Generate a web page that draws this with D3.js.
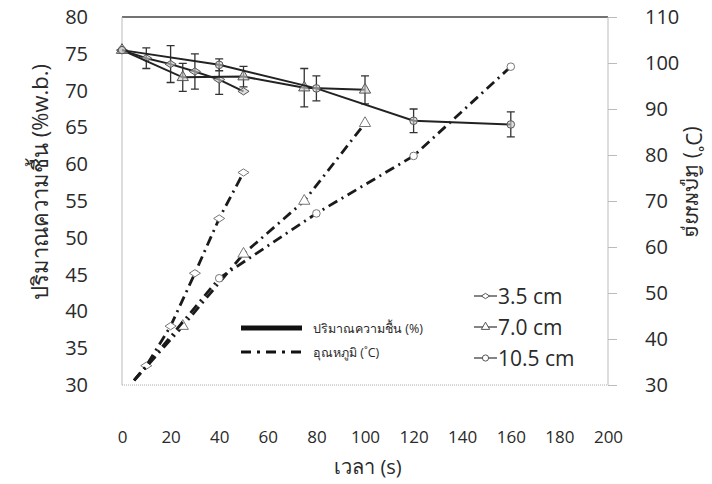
<!DOCTYPE html>
<html>
<head>
<meta charset="utf-8">
<script src="https://cdn.jsdelivr.net/npm/d3@7"></script>
<style>
  body { margin: 0; background: #fff; }
  text { font-family: "Open Sans", "Noto Sans", "Noto Sans CJK SC", sans-serif; fill: #2a2a2a; }
</style>
</head>
<body>
<svg width="712" height="484"></svg>
<script>
// moisture content (%w.b.), left axis
const seriesNames = ["3.5 cm", "7.0 cm", "10.5 cm"];
const moistTime = [
    [0, 10, 20, 30, 40, 50],
    [0, 25, 50, 75, 100],
    [0, 40, 80, 120, 160]
];
const moistValue = [
    [75.5, 74.4, 73.6, 72.6, 71.5, 69.9],
    [75.5, 71.8, 71.9, 70.4, 70.1],
    [75.5, 73.5, 70.3, 65.9, 65.4]
];
const moistErr = [
    [0.3, 1.4, 2.5, 2.4, 2.0, 0.3],
    [0.3, 1.9, 1.4, 2.6, 1.9],
    [0.3, 0.8, 1.7, 1.6, 1.7]
];
// temperature (°C), right axis
const tempTime = [
    [5, 10, 20, 30, 40, 50],
    [5, 25, 50, 75, 100],
    [5, 40, 80, 120, 160]
];
const tempValue = [
    [31, 34.2, 42.8, 54.3, 66.2, 76.2],
    [31, 42.8, 58.5, 70, 86.9],
    [31, 53.2, 67.3, 79.8, 99.2]
];
const xTicks = [0, 20, 40, 60, 80, 100, 120, 140, 160, 180, 200];
const yLeftTicks = [30, 35, 40, 45, 50, 55, 60, 65, 70, 75, 80];
const yRightTicks = [30, 40, 50, 60, 70, 80, 90, 100, 110];
const lineLegend = ["ปริมาณความชื้น (%)", "อุณหภูมิ (˚C)"];

const svg = d3.select("svg");
const plotL = 122, plotR = 608, plotT = 17, plotB = 385;

const x = d3.scaleLinear().domain([0, 200]).range([plotL, plotR]);
const yL = d3.scaleLinear().domain([30, 80]).range([plotB, plotT]);
const yR = d3.scaleLinear().domain([30, 110]).range([plotB, plotT]);

// wide diamond, like the original's marker
const wideDiamond = {
    draw(context, size) {
        const w = Math.sqrt(size) * 0.75, h = w * 0.65;
        context.moveTo(-w, 0);
        context.lineTo(0, -h);
        context.lineTo(w, 0);
        context.lineTo(0, h);
        context.closePath();
    }
};
const markerType = [wideDiamond, d3.symbolTriangle, d3.symbolCircle];
const markerSize = [55, 55, 45];

// frame
const frame = svg.append("g").attr("fill", "none");
frame.append("line").attr("x1", plotL).attr("x2", plotR).attr("y1", plotT).attr("y2", plotT)
    .attr("stroke", "#444").attr("stroke-width", 1.3);
frame.append("line").attr("x1", plotL).attr("x2", plotL).attr("y1", plotT).attr("y2", plotB)
    .attr("stroke", "#bbb");
frame.append("line").attr("x1", plotR).attr("x2", plotR).attr("y1", plotT).attr("y2", plotB)
    .attr("stroke", "#bbb");
frame.append("line").attr("x1", plotL).attr("x2", plotR).attr("y1", plotB).attr("y2", plotB)
    .attr("stroke", "#aaa").attr("stroke-dasharray", "1,1");

// axes
const xAxis = svg.append("g")
    .attr("transform", `translate(0 ${plotB + 46})`)
    .call(d3.axisBottom(x).tickValues(xTicks).tickSize(0).tickPadding(0));
xAxis.select(".domain").remove();
xAxis.selectAll("text").attr("font-size", 17).attr("fill", "#333");

const yAxisL = svg.append("g")
    .attr("transform", `translate(${plotL - 34} 0)`)
    .call(d3.axisLeft(yL).tickValues(yLeftTicks).tickSize(0).tickPadding(0));
yAxisL.select(".domain").remove();
yAxisL.selectAll("text").attr("font-size", 20).attr("fill", "#333");

const yAxisR = svg.append("g")
    .attr("transform", `translate(${plotR} 0)`)
    .call(d3.axisRight(yR).tickValues(yRightTicks).tickSize(9).tickPadding(28));
yAxisR.select(".domain").remove();
yAxisR.selectAll("line").attr("stroke", "#bbb");
yAxisR.selectAll("text").attr("font-size", 20).attr("fill", "#333");

// axis titles
svg.append("text")
    .attr("transform", "translate(39 182) rotate(-90)")
    .attr("text-anchor", "middle").attr("dominant-baseline", "central")
    .attr("font-size", 22)
    .text("ปริมาณความชื้น (%w.b.)");
// the right title is mirrored in the original figure
svg.append("text")
    .attr("transform", "translate(694 182) scale(-1 1) rotate(-90)")
    .attr("text-anchor", "middle").attr("dominant-baseline", "central")
    .attr("font-size", 21)
    .text("อุณหภูมิ (˚C)");
svg.append("text")
    .attr("x", 368).attr("y", 474)
    .attr("text-anchor", "middle")
    .attr("font-size", 20)
    .text("เวลา (s)");

// temperature lines
const tempGroup = svg.append("g").attr("id", "temperature");
const tempLine = d3.line().x(d => x(d[0])).y(d => yR(d[1]));
seriesNames.forEach((name, i) => {
    const pts = tempTime[i].map((t, j) => [t, tempValue[i][j]]);
    tempGroup.append("path")
        .attr("d", tempLine(pts))
        .attr("fill", "none")
        .attr("stroke", "#1a1a1a")
        .attr("stroke-width", 2.8)
        .attr("stroke-dasharray", "10,5,2,5");
    tempGroup.selectAll(null)
        .data(pts.slice(1))
        .enter().append("path")
        .attr("transform", d => `translate(${x(d[0])} ${yR(d[1])})`)
        .attr("d", d3.symbol(markerType[i], markerSize[i]))
        .attr("fill", "#fff")
        .attr("stroke", "#777")
        .attr("stroke-width", 1);
});

// moisture lines with error bars
const moistGroup = svg.append("g").attr("id", "moisture");
const moistLine = d3.line().x(d => x(d[0])).y(d => yL(d[1]));
seriesNames.forEach((name, i) => {
    const pts = moistTime[i].map((t, j) => [t, moistValue[i][j], moistErr[i][j]]);
    moistGroup.append("path")
        .attr("d", moistLine(pts))
        .attr("fill", "none")
        .attr("stroke", "#222")
        .attr("stroke-width", 2);
    moistGroup.selectAll(null)
        .data(pts.filter(d => d[2] > 0.5))
        .enter().append("path")
        .attr("d", d => {
            const path = d3.path();
            const cx = x(d[0]), y0 = yL(d[1] - d[2]), y1 = yL(d[1] + d[2]);
            path.moveTo(cx, y0); path.lineTo(cx, y1);
            path.moveTo(cx - 4, y0); path.lineTo(cx + 4, y0);
            path.moveTo(cx - 4, y1); path.lineTo(cx + 4, y1);
            return path.toString();
        })
        .attr("fill", "none")
        .attr("stroke", "#333")
        .attr("stroke-width", 1.3);
    moistGroup.selectAll(null)
        .data(pts)
        .enter().append("path")
        .attr("transform", d => `translate(${x(d[0])} ${yL(d[1])})`)
        .attr("d", d3.symbol(markerType[i], markerSize[i]))
        .attr("fill", "#ccc")
        .attr("fill-opacity", 0.6)
        .attr("stroke", "#555")
        .attr("stroke-width", 1);
});

// legend: line styles
const legend1 = svg.append("g").attr("id", "legend-lines");
lineLegend.forEach((label, i) => {
    const ly = 328 + i * 24;
    legend1.append("line")
        .attr("x1", 241).attr("x2", 302).attr("y1", ly).attr("y2", ly)
        .attr("stroke", "#111")
        .attr("stroke-width", i === 0 ? 5 : 3)
        .attr("stroke-dasharray", i === 0 ? null : "10,6,3,6");
    legend1.append("text")
        .attr("x", 313).attr("y", ly).attr("dominant-baseline", "central")
        .attr("font-size", 12.5)
        .text(label);
});

// legend: markers
const legend2 = svg.append("g").attr("id", "legend-markers");
seriesNames.forEach((name, i) => {
    const ly = 296 + i * 31;
    legend2.append("line")
        .attr("x1", 474).attr("x2", 497).attr("y1", ly).attr("y2", ly)
        .attr("stroke", "#333").attr("stroke-width", 1.2);
    legend2.append("path")
        .attr("transform", `translate(485.5 ${ly})`)
        .attr("d", d3.symbol(markerType[i], 30))
        .attr("fill", "#fff").attr("stroke", "#555");
    legend2.append("text")
        .attr("x", 498).attr("y", ly).attr("dominant-baseline", "central")
        .attr("font-size", 21)
        .text(name);
});
</script>
</body>
</html>
